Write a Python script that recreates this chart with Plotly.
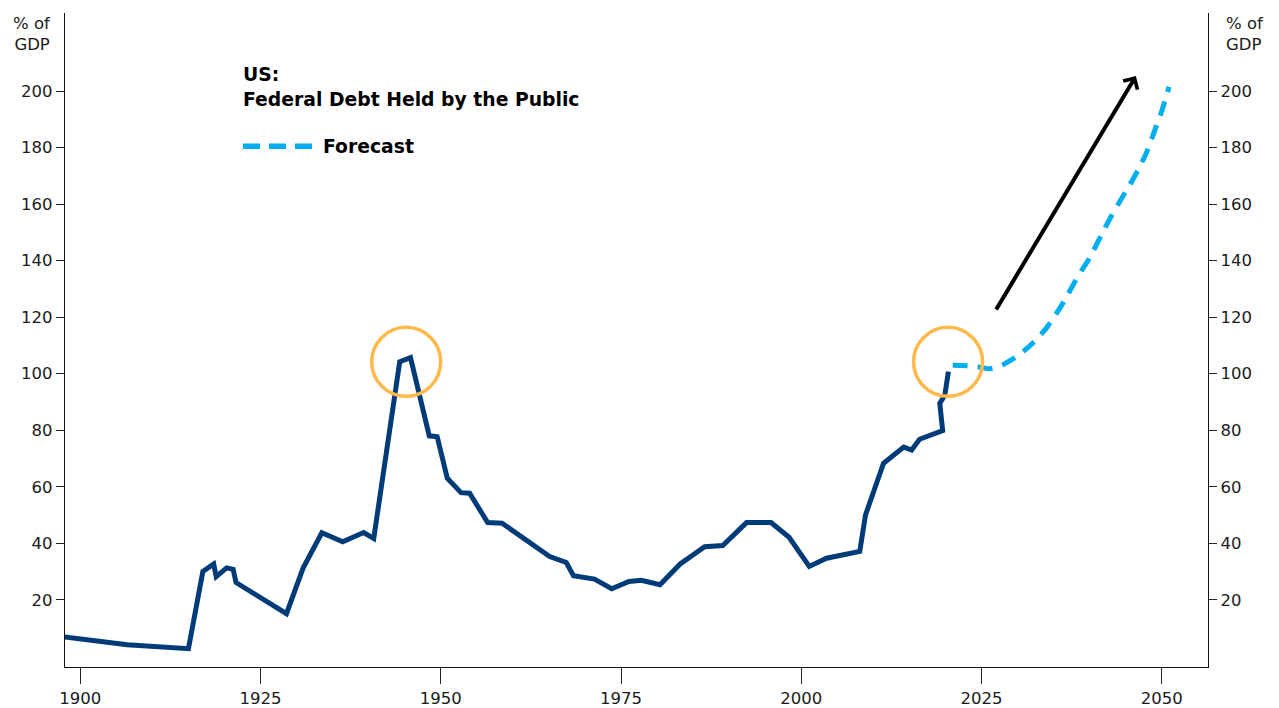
import plotly.graph_objects as go

# Federal debt held by the public, % of GDP (historical)
hist_years = [1897, 1906.5, 1915.0, 1917.0, 1918.5, 1918.85, 1920.3, 1921.2, 1921.6,
              1928.6, 1930.9, 1933.5, 1936.4, 1939.3, 1940.7, 1944.3, 1945.8, 1948.4,
              1949.5, 1950.9, 1952.8, 1954.0, 1956.5, 1958.5, 1965.1, 1967.4, 1968.4,
              1971.3, 1973.7, 1976.1, 1977.8, 1980.4, 1983.2, 1986.6, 1989.1, 1992.4,
              1995.8, 1998.3, 2001.1, 2003.5, 2008.1, 2008.9, 2011.4, 2014.2, 2015.3,
              2016.4, 2019.6, 2019.2, 2019.9, 2020.4]
hist_values = [7.1, 4.1, 2.7, 30.0, 32.7, 28.2, 31.3, 30.8, 26.1,
               15.1, 31.2, 43.7, 40.5, 43.8, 41.7, 104.2, 105.7, 78.0,
               77.7, 63.0, 57.9, 57.7, 47.3, 47.1, 35.3, 33.2, 28.5,
               27.3, 23.9, 26.5, 26.9, 25.3, 32.7, 38.8, 39.2, 47.3,
               47.3, 42.1, 31.8, 34.7, 37.1, 50.0, 68.3, 74.0, 73.0,
               76.8, 79.9, 89.5, 92.4, 100.7]

# Forecast path
fc_years = list(range(2021, 2052))
fc_values = [103.0, 102.9, 102.8, 102.6, 102.2, 101.7, 102.2, 103.2, 104.7, 106.3,
             108.3, 110.6, 113.2, 116.2, 119.8, 123.8, 128.2, 132.8, 137.0, 141.0,
             146.0, 151.0, 155.8, 160.2, 164.5, 168.8, 173.5, 179.0, 186.0, 193.0,
             201.5]

# Highlighted peaks (year, value)
peak_years = [1945.2, 2020.35]
peak_values = [104.2, 104.2]

# Trend arrow (tail -> head)
arrow_years = [2026.9, 2046.4]
arrow_values = [122.2, 205.3]

x_ticks = [1900, 1925, 1950, 1975, 2000, 2025, 2050]
y_ticks = [20, 40, 60, 80, 100, 120, 140, 160, 180, 200]

NAVY = "#003B79"
SKY = "#00AEEF"
GOLD = "#FDB94C"
INK = "#1a1a1a"
FONT = "Verdana, DejaVu Sans, sans-serif"

W, H = 1279, 708
L, R, T, B = 65, 1208, 13, 667


def px_x(px):
    return (px - L) / (R - L)


def px_y(py):
    return (B - py) / (B - T)


fig = go.Figure()
fig.add_trace(go.Scatter(
    x=hist_years, y=hist_values, mode="lines",
    line=dict(color=NAVY, width=5), showlegend=False, hoverinfo="skip"))
fig.add_trace(go.Scatter(
    x=fc_years, y=fc_values, mode="lines",
    line=dict(color=SKY, width=5, dash="15px,10px", shape="spline", smoothing=0.6),
    showlegend=False, hoverinfo="skip"))
# right-hand copy of the value axis
fig.add_trace(go.Scatter(
    x=[hist_years[0]], y=[hist_values[0]], yaxis="y2", mode="markers",
    marker=dict(opacity=0), showlegend=False, hoverinfo="skip"))

shapes = []
for yr, val in zip(peak_years, peak_values):
    shapes.append(dict(
        type="circle", xref="x", yref="y", xsizemode="pixel", ysizemode="pixel",
        xanchor=yr, yanchor=val, x0=-34.5, x1=34.5, y0=-34.5, y1=34.5,
        line=dict(color=GOLD, width=3.5), layer="above"))
# legend sample for the forecast line
shapes.append(dict(
    type="line", xref="paper", yref="paper",
    x0=px_x(243), x1=px_x(313), y0=px_y(146.3), y1=px_y(146.3),
    line=dict(color=SKY, width=5.5, dash="17px,9px")))

TITLE_SIZE = 18.8
annotations = [
    dict(x=arrow_years[1], y=arrow_values[1], ax=arrow_years[0], ay=arrow_values[0],
         xref="x", yref="y", axref="x", ayref="y", text="", showarrow=True,
         arrowhead=4, arrowsize=0.8, arrowwidth=4, arrowcolor="#000000", standoff=0),
    dict(x=px_x(241), y=px_y(74.5), xref="paper", yref="paper", xanchor="left",
         yanchor="middle", text="<b>US:</b>", showarrow=False,
         font=dict(family=FONT, size=TITLE_SIZE, color="#000")),
    dict(x=px_x(241), y=px_y(100), xref="paper", yref="paper", xanchor="left",
         yanchor="middle", text="<b>Federal Debt Held by the Public</b>", showarrow=False,
         font=dict(family=FONT, size=TITLE_SIZE, color="#000")),
    dict(x=px_x(321), y=px_y(146.5), xref="paper", yref="paper", xanchor="left",
         yanchor="middle", text="<b>Forecast</b>", showarrow=False,
         font=dict(family=FONT, size=TITLE_SIZE, color="#000")),
    dict(x=px_x(53), y=px_y(34), xref="paper", yref="paper", xanchor="right",
         yanchor="middle", align="right", text="% of<br>GDP", showarrow=False,
         font=dict(family=FONT, size=16.5, color=INK)),
    dict(x=px_x(1224), y=px_y(34), xref="paper", yref="paper", xanchor="left",
         yanchor="middle", align="left", text="% of<br>GDP", showarrow=False,
         font=dict(family=FONT, size=16.5, color=INK)),
]

yax = dict(range=[-3.78, 227.6], tickvals=y_ticks, ticks="outside", ticklen=8,
           tickwidth=1.3, tickcolor="#222", showline=True, linecolor="#111",
           linewidth=1.3, showgrid=False, zeroline=False, fixedrange=True,
           automargin=False, tickfont=dict(family=FONT, size=16.5, color=INK))

fig.update_layout(
    width=W, height=H,
    margin=dict(l=L, r=W - R, t=T, b=H - B, autoexpand=False),
    paper_bgcolor="white", plot_bgcolor="white",
    showlegend=False,
    font=dict(family=FONT, size=16, color=INK),
    xaxis=dict(range=[1897.88, 2056.4], tickvals=x_ticks, ticks="outside", ticklen=16,
               tickwidth=1.3, tickcolor="#222", showline=True, linecolor="#111",
               linewidth=1.3, showgrid=False, zeroline=False, automargin=False,
               tickfont=dict(family=FONT, size=16.5, color=INK)),
    yaxis=dict(**yax, side="left"),
    yaxis2=dict(**yax, side="right", overlaying="y", anchor="x"),
    shapes=shapes,
    annotations=annotations,
)

fig.write_html("out.html", include_plotlyjs=True, config={"displayModeBar": False})
